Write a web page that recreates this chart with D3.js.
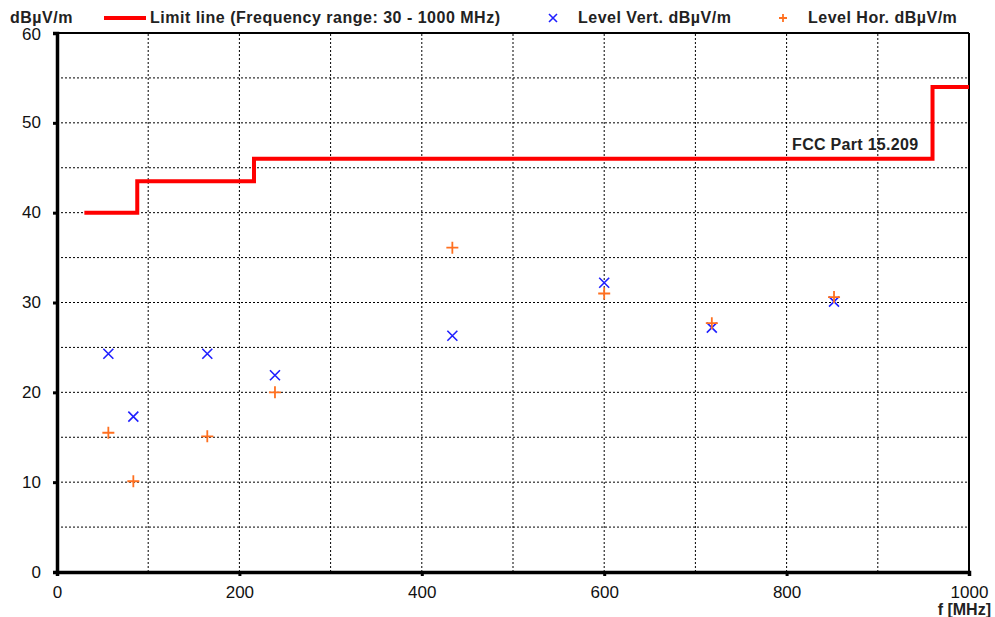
<!DOCTYPE html>
<head>
  <meta charset="utf-8">
  <script src="https://d3js.org/d3.v7.min.js"></script>
  <style>
    body { margin:0; background:#fff; }
    svg { display:block; font-family: "Liberation Sans", Arial, sans-serif; }
  </style>
</head>
<body>
  <svg width="995" height="617"></svg>
  <script>
    // limit line (FCC Part 15.209), step edges in MHz
    var limitFreq  = [30, 88, 88, 216, 216, 960, 960, 1000];
    var limitLevel = [40, 40, 43.5, 43.5, 46, 46, 54, 54];

    // measured points
    var pointFreq = [56.3, 83.7, 164.8, 239, 433.5, 600, 718, 852];
    var levelVert = [24.3, 17.3, 24.3, 21.9, 26.3, 32.2, 27.2, 30.1];
    var levelHor  = [15.5, 10.1, 15.1, 20.0, 36.1, 31.0, 27.7, 30.6];

    var xTicks = [0, 200, 400, 600, 800, 1000];
    var yTicks = [0, 10, 20, 30, 40, 50, 60];

    var width = 995, height = 617;
    var margin = {top: 33, right: 26, bottom: 45, left: 57};

    var svg = d3.select('svg');

    var x = d3.scaleLinear().domain([0, 1000]).range([margin.left, width - margin.right]);
    var y = d3.scaleLinear().domain([0, 60]).range([height - margin.bottom, margin.top]);

    // grid
    var grid = svg.append('g');
    grid.selectAll('.gx').data(d3.range(100, 1000, 100)).enter()
      .append('line')
      .attr('x1', d => x(d)).attr('x2', d => x(d))
      .attr('y1', y(0)).attr('y2', y(60))
      .attr('stroke', '#000').attr('stroke-width', 1).attr('stroke-dasharray', '2,2');
    grid.selectAll('.gy').data(d3.range(5, 60, 5)).enter()
      .append('line')
      .attr('y1', d => y(d)).attr('y2', d => y(d))
      .attr('x1', x(0)).attr('x2', x(1000))
      .attr('stroke', '#000').attr('stroke-width', 1).attr('stroke-dasharray', '2,2');

    // frame top / right
    svg.append('line').attr('x1', x(0)).attr('x2', x(1000)).attr('y1', y(60)).attr('y2', y(60))
      .attr('stroke', '#000').attr('stroke-width', 2);
    svg.append('line').attr('x1', x(1000)).attr('x2', x(1000)).attr('y1', y(60)).attr('y2', y(0))
      .attr('stroke', '#000').attr('stroke-width', 2);

    // axes
    var xAxis = d3.axisBottom(x).tickValues(xTicks).tickFormat(d3.format('d')).tickSize(4).tickPadding(10);
    var yAxis = d3.axisLeft(y).tickValues(yTicks).tickSize(4).tickPadding(12);

    var gx = svg.append('g').attr('transform', 'translate(0,' + y(0) + ')').call(xAxis);
    var gy = svg.append('g').attr('transform', 'translate(' + x(0) + ',0)').call(yAxis);
    [gx, gy].forEach(g => {
      g.select('.domain').attr('stroke', '#000').attr('stroke-width', 3.5);
      g.selectAll('.tick line').attr('stroke', '#000').attr('stroke-width', 3);
      g.selectAll('.tick text').attr('font-size', 17).attr('fill', '#111');
    });
    gy.selectAll('.tick text').attr('dy', '0.3em');
    gy.select('.tick:last-of-type text').attr('dy', '0.38em');

    // limit line
    var line = d3.line().x(d => x(d[0])).y(d => y(d[1]));
    svg.append('path')
      .attr('d', line(d3.zip(limitFreq, limitLevel)))
      .attr('fill', 'none').attr('stroke', '#ff0000').attr('stroke-width', 4);

    svg.append('text').attr('x', x(806)).attr('y', y(47))
      .attr('font-size', 16).attr('font-weight', 'bold').attr('fill', '#222')
      .attr('letter-spacing', 0.3)
      .text('FCC Part 15.209');

    // markers
    var blue = '#2020ff', orange = '#ff7020';

    function xMark(g, cx, cy, s, color) {
      g.append('path')
        .attr('d', 'M' + (cx - s) + ',' + (cy - s) + 'L' + (cx + s) + ',' + (cy + s) +
                   'M' + (cx - s) + ',' + (cy + s) + 'L' + (cx + s) + ',' + (cy - s))
        .attr('stroke', color).attr('stroke-width', 1.6).attr('fill', 'none');
    }
    function plusMark(g, cx, cy, s, color) {
      g.append('path')
        .attr('d', 'M' + (cx - s) + ',' + cy + 'L' + (cx + s) + ',' + cy +
                   'M' + cx + ',' + (cy - s) + 'L' + cx + ',' + (cy + s))
        .attr('stroke', color).attr('stroke-width', 1.8).attr('fill', 'none');
    }

    var marks = svg.append('g');
    pointFreq.forEach((f, i) => {
      xMark(marks, x(f), y(levelVert[i]), 5, blue);
    });
    pointFreq.forEach((f, i) => {
      plusMark(marks, x(f), y(levelHor[i]), 6, orange);
    });

    // legend
    var leg = svg.append('g').attr('font-size', 16).attr('font-weight', 'bold').attr('fill', '#222')
      .attr('letter-spacing', 0.5);
    leg.append('text').attr('x', 10).attr('y', 23).text('dBµV/m');
    leg.append('line').attr('x1', 104).attr('x2', 146).attr('y1', 18).attr('y2', 18)
      .attr('stroke', '#ff0000').attr('stroke-width', 4);
    leg.append('text').attr('x', 150).attr('y', 23).text('Limit line (Frequency range: 30 - 1000 MHz)');
    xMark(leg, 553, 18, 4, blue);
    leg.append('text').attr('x', 578).attr('y', 23).text('Level Vert. dBµV/m');
    plusMark(leg, 783, 18, 4, orange);
    leg.append('text').attr('x', 808).attr('y', 23).text('Level Hor. dBµV/m');

    // x axis title
    svg.append('text').attr('x', 991).attr('y', 615).attr('text-anchor', 'end')
      .attr('font-size', 16).attr('font-weight', 'bold').attr('fill', '#222')
      .text('f [MHz]');
  </script>
</body>
